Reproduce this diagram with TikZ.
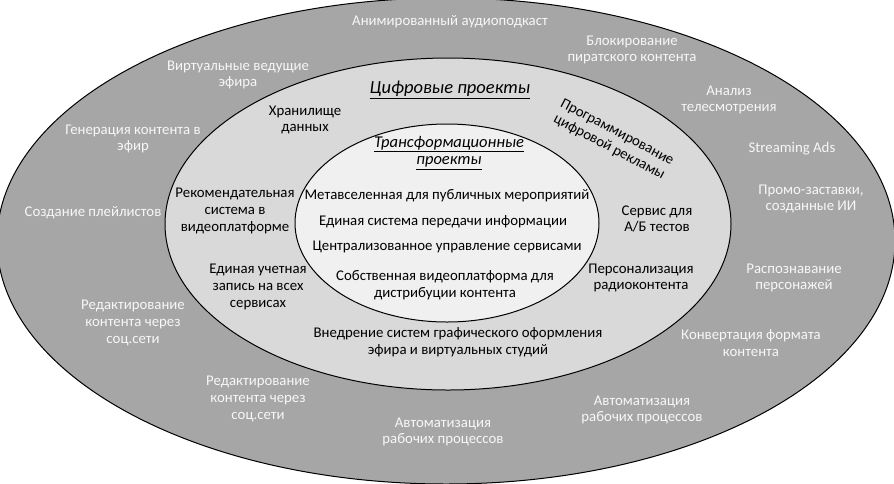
\documentclass[tikz,border=0pt]{standalone}
\usepackage{fontspec}
\setmainfont{Carlito}
\definecolor{outerc}{HTML}{A6A6A6}
\definecolor{midc}{HTML}{D9D9D9}
\definecolor{innerc}{HTML}{F0F0F0}
\definecolor{wtext}{HTML}{F7F7F7}
\tikzset{
  ring/.style={draw=black, line width=1pt},
  otxt/.style={text=wtext, align=center, font=\fontsize{14.8}{16.8}\selectfont, inner sep=0pt},
  mtxt/.style={text=black, align=center, font=\fontsize{14.8}{16.8}\selectfont, inner sep=0pt},
  ttl/.style={text=black, align=center, inner sep=0pt}
}
\begin{document}
\begin{tikzpicture}[x=1pt,y=-1pt]
\useasboundingbox (0,0) rectangle (894,483);
\fill[white] (0,0) rectangle (894,483);
\begin{scope}
\clip (0,0) rectangle (894,483);
\draw[ring, fill=outerc] (446,241) ellipse [x radius=449pt, y radius=243pt];
\end{scope}
\draw[ring, fill=midc] (448,224) ellipse [x radius=283pt, y radius=166pt];
\draw[ring, fill=innerc] (447,223) ellipse [x radius=152pt, y radius=99pt];

% outer ring
\node[otxt] (o1) at (450,22) {Анимированный аудиоподкаст};
\node[otxt] (o2) at (632,50) {Блокирование\\пиратского контента};
\node[otxt] (o3) at (238,75) {Виртуальные ведущие\\эфира};
\node[otxt] (o4) at (729,100) {Анализ\\телесмотрения};
\node[otxt] (o5) at (133,139) {Генерация контента в\\эфир};
\node[otxt] (o6) at (792,149) {Streaming Ads};
\node[otxt] (o7) at (811,199) {Промо-заставки,\\созданные ИИ};
\node[otxt] (o8) at (93,213) {Создание плейлистов};
\node[otxt] (o9) at (794,278) {Распознавание\\персонажей};
\node[otxt] (o10) at (133,323) {Редактирование\\контента через\\соц.сети};
\node[otxt] (o11) at (751,343) {Конвертация формата\\контента};
\node[otxt] (o12) at (258,399) {Редактирование\\контента через\\соц.сети};
\node[otxt] (o13) at (642,410) {Автоматизация\\рабочих процессов};
\node[otxt] (o14) at (443,432) {Автоматизация\\рабочих процессов};

% middle ring
\node[ttl, font=\fontsize{18.5}{21}\selectfont\itshape] (mt) at (450,90) {\underline{Цифровые проекты}};
\node[mtxt] (m1) at (305,120) {Хранилище\\данных};
\node[mtxt, rotate=-28] (m2) at (613,140) {Программирование\\цифровой рекламы};
\node[mtxt] (m3) at (235,211) {Рекомендательная\\система в\\видеоплатформе};
\node[mtxt] (m4) at (657,219) {Сервис для\\А/Б тестов};
\node[mtxt] (m5) at (258,287) {Единая учетная\\запись на всех\\сервисах};
\node[mtxt] (m6) at (641,278) {Персонализация\\радиоконтента};
\node[mtxt] (m7) at (458,342) {Внедрение систем графического оформления\\эфира и виртуальных студий};

% inner
\node[ttl, font=\fontsize{16.5}{17.5}\selectfont\itshape] (it) at (449,153) {\underline{Трансформационные}\\\underline{проекты}};
\node[mtxt] (i1) at (447,196) {Метавселенная для публичных мероприятий};
\node[mtxt] (i2) at (443,222) {Единая система передачи информации};
\node[mtxt] (i3) at (447,247) {Централизованное управление сервисами};
\node[mtxt] (i4) at (445,285) {Собственная видеоплатформа для\\дистрибуции контента};
\end{tikzpicture}
\end{document}
